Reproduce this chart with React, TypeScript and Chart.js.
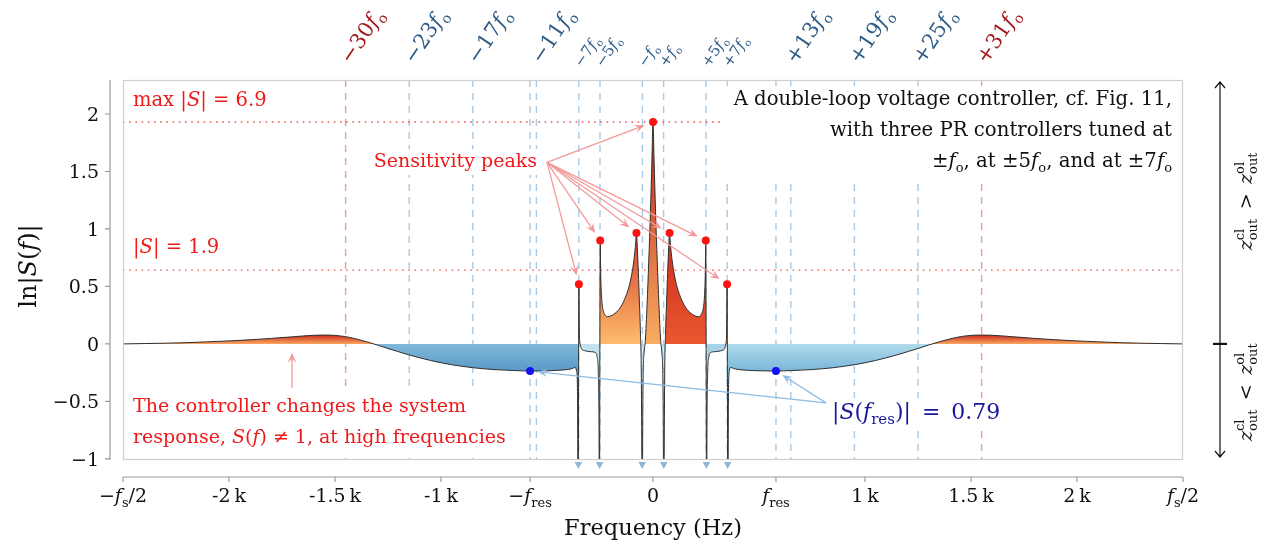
import { useEffect, useRef } from "react";
import { Chart, registerables } from "chart.js";

Chart.register(...registerables);

const FONT = '"DejaVu Serif", "Liberation Serif", serif';

// ---------------- data ----------------
const FREQ_HZ = [
  -2500, -2400, -2300, -2200, -2100, -2000, -1900, -1800, -1700, -1600, -1550, -1500, -1450, -1400, -1350, -1300,
  -1250, -1200, -1150, -1100, -1050, -1000, -950, -900, -850, -800, -750, -700, -650, -580, -500, -450, -400,
  -380, -368, -360, -356, -353, -351, -349.5, -347.5, -344, -338, -320, -290, -272, -264, -258, -255, -252.5,
  -250.5, -249, -246.5, -243, -237, -228, -216, -200, -185, -165, -145, -125, -110, -97, -88, -82, -78, -74,
  -69, -64, -59, -55, -51, -47, -42, -36, -28, -20, -12, -5, 0,
  5, 12, 20, 28, 36, 42, 47, 51, 55, 59, 64, 69, 74, 78, 82, 88, 97, 110, 125, 145, 165, 185, 200, 216, 228,
  237, 243, 246.5, 249, 250.5, 252.5, 255, 258, 264, 272, 290, 320, 338, 344, 347.5, 349.5, 351, 353, 356, 360,
  368, 380, 400, 450, 500, 580, 650, 700, 750, 800, 850, 900, 950, 1000, 1050, 1100, 1150, 1200, 1250, 1300,
  1350, 1400, 1450, 1500, 1550, 1600, 1700, 1800, 1900, 2000, 2100, 2200, 2300, 2400, 2500,
];
const LN_S = [
  0, 0.003, 0.006, 0.011, 0.018, 0.026, 0.036, 0.048, 0.062, 0.075, 0.077, 0.074, 0.063, 0.043, 0.018, -0.01,
  -0.04, -0.068, -0.096, -0.121, -0.144, -0.164, -0.181, -0.195, -0.207, -0.216, -0.223, -0.228, -0.232, -0.236, -0.234, -0.23, -0.222,
  -0.214, -0.205, -0.24, -0.45, -1.6, -0.3, 0.52, 0.12, 0.0, -0.04, -0.06, -0.068, -0.075, -0.11, -0.25, -0.6, -1.6,
  0.1, 0.9, 0.6, 0.42, 0.31, 0.258, 0.237, 0.243, 0.258, 0.29, 0.345, 0.43, 0.52, 0.64, 0.76, 0.87, 0.965, 0.84,
  0.62, 0.36, 0.08, -0.3, -1.6, -0.35, -0.08, 0.03, 0.34, 0.72, 1.15, 1.6, 1.93,
  1.6, 1.15, 0.72, 0.34, 0.03, -0.08, -0.35, -1.6, -0.3, 0.08, 0.36, 0.62, 0.84, 0.965, 0.87, 0.76, 0.64, 0.52, 0.43, 0.345, 0.29, 0.258, 0.243, 0.237, 0.258,
  0.31, 0.42, 0.6, 0.9, 0.1, -1.6, -0.6, -0.25, -0.11, -0.075, -0.068, -0.06, -0.04, 0.0, 0.12, 0.52, -0.3, -1.6, -0.45, -0.24,
  -0.205, -0.214, -0.222, -0.23, -0.234, -0.236, -0.232, -0.228, -0.223, -0.216, -0.207, -0.195, -0.181, -0.164, -0.144, -0.121, -0.096, -0.068, -0.04, -0.01,
  0.018, 0.043, 0.063, 0.074, 0.077, 0.075, 0.062, 0.048, 0.036, 0.026, 0.018, 0.011, 0.006, 0.003, 0,
];
// frequency ranges drawn with their own shading
const SPLIT_HZ = [-2500, -344, -51, 51, 344, 2500];

const PEAK_HZ = [-349.5, -249, -78, 0, 78, 249, 349.5];
const PEAK_LN = [0.52, 0.9, 0.965, 1.93, 0.965, 0.9, 0.52];
const RES_HZ = [-580, 580];
const RES_LN = [-0.236, -0.236];
const NOTCH_HZ = [-352, -252, -51, 51, 252, 352];

const HARM_HZ = [-1450, -1150, -850, -550, -350, -250, -50, 50, 250, 350, 650, 950, 1250, 1550];
const HARM_LABELS = ["−30", "−23", "−17", "−11", "−7", "−5", "−", "+", "+5", "+7", "+13", "+19", "+25", "+31"];
const HARM_RED = [true, false, false, false, false, false, false, false, false, false, false, false, false, true];
const HARM_SMALL = [false, false, false, false, true, true, true, true, true, true, false, false, false, false];
const RES_LINE_HZ = [-580, 580];

const X_TICK_HZ = [-2500, -2000, -1500, -1000, -580, 0, 580, 1000, 1500, 2000, 2500];
const X_TICK_LABELS = ["−$f$_{s}/2", "-2\u2009k", "-1.5\u2009k", "-1\u2009k", "−$f$_{res}", "0", "$f$_{res}", "1\u2009k", "1.5\u2009k", "2\u2009k", "$f$_{s}/2"];
const Y_TICKS = [-1, -0.5, 0, 0.5, 1, 1.5, 2];
const Y_TICK_LABELS = ["−1", "−0.5", "0", "0.5", "1", "1.5", "2"];

const MAX_LN_S = 1.93; // ln 6.9
const LIMIT_LN_S = 0.642; // ln 1.9
const SENS_ORIGIN = [-500, 1.58];
const RES_ORIGIN = [816, -0.513];
const HF_ARROW = [-1703, -0.383, -0.078];

// ---------------- rich text helpers ----------------
type Seg = { t: string; k: string };

function parseRich(s: string): Seg[] {
  const out: Seg[] = [];
  let buf = "";
  let i = 0;
  const flush = () => {
    if (buf) out.push({ t: buf, k: "" });
    buf = "";
  };
  while (i < s.length) {
    const ch = s[i];
    if (ch === "$") {
      flush();
      const j = s.indexOf("$", i + 1);
      out.push({ t: s.slice(i + 1, j), k: "i" });
      i = j + 1;
    } else if ((ch === "_" || ch === "^") && s[i + 1] === "{") {
      flush();
      const j = s.indexOf("}", i);
      out.push({ t: s.slice(i + 2, j), k: ch === "_" ? "sub" : "sup" });
      i = j + 1;
    } else {
      buf += ch;
      i++;
    }
  }
  flush();
  return out;
}

function fontFor(k: string, size: number) {
  if (k === "i") return `italic ${size}px ${FONT}`;
  if (k === "sub" || k === "sup") return `${Math.round(size * 0.68)}px ${FONT}`;
  return `${size}px ${FONT}`;
}

function layoutRich(ctx: CanvasRenderingContext2D, text: string, size: number) {
  const segs = parseRich(text);
  const items: any[] = [];
  let x = 0;
  for (let i = 0; i < segs.length; i++) {
    const s = segs[i];
    ctx.font = fontFor(s.k, size);
    const w = ctx.measureText(s.t).width;
    const next = segs[i + 1];
    if (s.k === "sub" && next && next.k === "sup") {
      ctx.font = fontFor("sup", size);
      const w2 = ctx.measureText(next.t).width;
      items.push({ s, x, dy: size * 0.25 });
      items.push({ s: next, x, dy: -size * 0.4 });
      x += Math.max(w, w2);
      i++;
      continue;
    }
    items.push({ s, x, dy: s.k === "sub" ? size * 0.25 : s.k === "sup" ? -size * 0.4 : 0 });
    x += w;
  }
  return { items, width: x };
}

function drawRich(
  ctx: CanvasRenderingContext2D,
  text: string,
  x: number,
  y: number,
  size: number,
  color: string,
  align = "left",
  box = false
) {
  const L = layoutRich(ctx, text, size);
  const x0 = align === "left" ? x : align === "right" ? x - L.width : x - L.width / 2;
  if (box) {
    ctx.fillStyle = "#ffffff";
    ctx.fillRect(x0 - 5, y - size * 0.95, L.width + 10, size * 1.35);
  }
  ctx.fillStyle = color;
  ctx.textAlign = "left";
  ctx.textBaseline = "alphabetic";
  for (const it of L.items) {
    ctx.font = fontFor(it.s.k, size);
    ctx.fillText(it.s.t, x0 + it.x, y + it.dy);
  }
  return { left: x0, right: x0 + L.width };
}

function arrow(ctx: CanvasRenderingContext2D, x0: number, y0: number, x1: number, y1: number, gap: number, color: string) {
  const dx = x1 - x0;
  const dy = y1 - y0;
  const len = Math.hypot(dx, dy);
  const ux = dx / len;
  const uy = dy / len;
  const tx = x1 - ux * gap;
  const ty = y1 - uy * gap;
  const hl = 10;
  const hw = 4.2;
  ctx.strokeStyle = color;
  ctx.fillStyle = color;
  ctx.lineWidth = 1.3;
  ctx.setLineDash([]);
  ctx.beginPath();
  ctx.moveTo(x0, y0);
  ctx.lineTo(tx - ux * hl * 0.6, ty - uy * hl * 0.6);
  ctx.stroke();
  ctx.beginPath();
  ctx.moveTo(tx, ty);
  ctx.lineTo(tx - ux * hl - uy * hw, ty - uy * hl + ux * hw);
  ctx.lineTo(tx - ux * hl * 0.6, ty - uy * hl * 0.6);
  ctx.lineTo(tx - ux * hl + uy * hw, ty - uy * hl - ux * hw);
  ctx.closePath();
  ctx.fill();
}

// ---------------- drawing plugin ----------------
const decorations = {
  id: "decorations",
  beforeDatasetsDraw(chart: any) {
    const { ctx, chartArea: a, scales } = chart;
    const x = scales.x;
    const y = scales.y;
    ctx.save();
    ctx.lineWidth = 1.4;
    ctx.setLineDash([7, 6]);
    const lines = [
      ...HARM_HZ.map((f, i) => ({ f, red: HARM_RED[i] })),
      ...RES_LINE_HZ.map((f) => ({ f, red: false })),
    ];
    for (const l of lines) {
      const px = x.getPixelForValue(l.f);
      ctx.strokeStyle = l.red ? "#ec9a9a" : "#a8cae6";
      ctx.beginPath();
      ctx.moveTo(px, a.top);
      ctx.lineTo(px, a.bottom);
      ctx.stroke();
    }
    ctx.setLineDash([1.6, 4.6]);
    ctx.strokeStyle = "#ee5656";
    ctx.lineWidth = 1.4;
    for (const v of [MAX_LN_S, LIMIT_LN_S]) {
      const py = y.getPixelForValue(v);
      ctx.beginPath();
      ctx.moveTo(a.left, py);
      ctx.lineTo(a.right, py);
      ctx.stroke();
    }
    ctx.restore();
  },
  afterDatasetsDraw(chart: any) {
    const { ctx, chartArea: a, scales } = chart;
    const x = scales.x;
    const y = scales.y;
    const RED = "#f01818";
    const PINK = "#f29a9a";
    ctx.save();

    drawRich(ctx, "max |$S$| = 6.9", a.left + 10, y.getPixelForValue(MAX_LN_S) - 16, 19.5, RED);
    drawRich(ctx, "|$S$| = 1.9", a.left + 10, y.getPixelForValue(LIMIT_LN_S) - 17, 19.5, RED);

    // sensitivity peaks
    const sx = x.getPixelForValue(SENS_ORIGIN[0]);
    const sy = y.getPixelForValue(SENS_ORIGIN[1]);
    drawRich(ctx, "Sensitivity peaks", sx - 10, sy + 5, 19, RED, "right", true);
    PEAK_HZ.forEach((f, i) => arrow(ctx, sx, sy, x.getPixelForValue(f), y.getPixelForValue(PEAK_LN[i]), 9, PINK));

    // high-frequency note
    const l1 = "The controller changes the system";
    const l2 = "response, $S$($f$) ≠ 1, at high frequencies";
    const w = Math.max(layoutRich(ctx, l1, 19).width, layoutRich(ctx, l2, 19).width);
    ctx.fillStyle = "#fff";
    ctx.fillRect(a.left + 2, a.bottom - 70, w + 18, 68);
    drawRich(ctx, l1, a.left + 10, a.bottom - 48, 19, RED);
    drawRich(ctx, l2, a.left + 10, a.bottom - 17, 19, RED);
    const hx = x.getPixelForValue(HF_ARROW[0]);
    arrow(ctx, hx, y.getPixelForValue(HF_ARROW[1]), hx, y.getPixelForValue(HF_ARROW[2]), 0, PINK);

    // description box
    const d1 = "A double-loop voltage controller, cf. Fig. 11,";
    const d2 = "with three PR controllers tuned at";
    const d3 = "±$f$_{o}, at ±5$f$_{o}, and at ±7$f$_{o}";
    const ds = 19.7;
    const dw = Math.max(layoutRich(ctx, d1, ds).width, layoutRich(ctx, d2, ds).width, layoutRich(ctx, d3, ds).width);
    const rx = a.right - 11;
    ctx.fillStyle = "#fff";
    ctx.fillRect(rx - dw - 10, a.top + 6, dw + 20, 92);
    drawRich(ctx, d1, rx, a.top + 25, ds, "#111", "right");
    drawRich(ctx, d2, rx, a.top + 56, ds, "#111", "right");
    drawRich(ctx, d3, rx, a.top + 87, ds, "#111", "right");

    // |S(f_res)|
    const ox = x.getPixelForValue(RES_ORIGIN[0]);
    const oy = y.getPixelForValue(RES_ORIGIN[1]);
    drawRich(ctx, "|$S$($f$_{res})|\u2002=\u20020.79", ox + 6, oy + 16, 22, "#17179a", "left", true);
    RES_HZ.forEach((f, i) => arrow(ctx, ox, oy, x.getPixelForValue(f), y.getPixelForValue(RES_LN[i]), 7.5, "#8fbbe0"));

    ctx.restore();
  },
  afterDraw(chart: any) {
    const { ctx, chartArea: a, scales } = chart;
    const x = scales.x;
    const y = scales.y;
    ctx.save();
    ctx.setLineDash([]);
    // frame
    ctx.strokeStyle = "#cfcfcf";
    ctx.lineWidth = 1.2;
    ctx.strokeRect(a.left + 0.5, a.top + 0.5, a.right - a.left - 1, a.bottom - a.top - 1);

    // notch markers
    ctx.fillStyle = "#89b7dd";
    for (const f of NOTCH_HZ) {
      const px = x.getPixelForValue(f);
      ctx.beginPath();
      ctx.moveTo(px - 3.8, a.bottom + 2);
      ctx.lineTo(px + 3.8, a.bottom + 2);
      ctx.lineTo(px, a.bottom + 9);
      ctx.closePath();
      ctx.fill();
    }

    // y axis
    const ax = a.left - 13;
    ctx.strokeStyle = "#9a9a9a";
    ctx.lineWidth = 1.2;
    ctx.beginPath();
    ctx.moveTo(ax, a.top);
    ctx.lineTo(ax, a.bottom);
    for (const v of Y_TICKS) {
      const py = y.getPixelForValue(v);
      ctx.moveTo(ax - 5, py);
      ctx.lineTo(ax, py);
    }
    ctx.stroke();
    Y_TICKS.forEach((v, i) => drawRich(ctx, Y_TICK_LABELS[i], ax - 11, y.getPixelForValue(v) + 7, 19, "#111", "right"));

    // x axis
    const ay = a.bottom + 17;
    ctx.beginPath();
    ctx.moveTo(a.left, ay);
    ctx.lineTo(a.right, ay);
    for (const f of X_TICK_HZ) {
      const px = x.getPixelForValue(f);
      ctx.moveTo(px, ay);
      ctx.lineTo(px, ay + 5);
    }
    ctx.stroke();
    X_TICK_HZ.forEach((f, i) => drawRich(ctx, X_TICK_LABELS[i], x.getPixelForValue(f), ay + 25, 19, "#111", "center"));

    // axis titles
    drawRich(ctx, "Frequency (Hz)", (a.left + a.right) / 2, a.bottom + 75, 22.5, "#111", "center");
    ctx.save();
    ctx.translate(36, (a.top + a.bottom) / 2 - 4);
    ctx.rotate(-Math.PI / 2);
    drawRich(ctx, "ln|$S$($f$)|", 0, 0, 24, "#111", "center");
    ctx.restore();

    // harmonic labels on top
    HARM_HZ.forEach((f, i) => {
      const px = x.getPixelForValue(f);
      const small = HARM_SMALL[i];
      ctx.save();
      ctx.translate(px + (small ? 3 : 5), a.top - (small ? 12 : 15));
      ctx.rotate((-56 * Math.PI) / 180);
      drawRich(ctx, HARM_LABELS[i] + "$f$_{o}", 0, 0, small ? 15 : 21, HARM_RED[i] ? "#a3191c" : "#2d5b86", "left");
      ctx.restore();
    });

    // right-hand impedance axis
    const zx = a.right + 37;
    const top = a.top + 2;
    const bot = a.bottom - 3;
    const z0 = y.getPixelForValue(0);
    ctx.strokeStyle = "#111";
    ctx.lineWidth = 1.2;
    ctx.beginPath();
    ctx.moveTo(zx, top);
    ctx.lineTo(zx, bot);
    ctx.moveTo(zx - 5, top + 6);
    ctx.lineTo(zx, top);
    ctx.lineTo(zx + 5, top + 6);
    ctx.moveTo(zx - 5, bot - 6);
    ctx.lineTo(zx, bot);
    ctx.lineTo(zx + 5, bot - 6);
    ctx.stroke();
    ctx.lineWidth = 2.2;
    ctx.beginPath();
    ctx.moveTo(zx - 7, z0);
    ctx.lineTo(zx + 7, z0);
    ctx.stroke();
    ctx.save();
    ctx.translate(zx + 32, y.getPixelForValue(1.24));
    ctx.rotate(-Math.PI / 2);
    drawRich(ctx, "$z$_{out}^{cl}\u2002>\u2002$z$_{out}^{ol}", 0, 0, 19, "#111", "center");
    ctx.restore();
    ctx.save();
    ctx.translate(zx + 32, y.getPixelForValue(-0.42));
    ctx.rotate(-Math.PI / 2);
    drawRich(ctx, "$z$_{out}^{cl}\u2002<\u2002$z$_{out}^{ol}", 0, 0, 19, "#111", "center");
    ctx.restore();

    ctx.restore();
  },
};

function buildConfig(fills: any[] | null, withDecor: boolean): any {
  const datasets: any[] = SPLIT_HZ.slice(0, -1).map((lo, k) => {
    const hi = SPLIT_HZ[k + 1];
    const pts: any[] = [];
    FREQ_HZ.forEach((f, i) => {
      if (f >= lo && f <= hi) pts.push({ x: f, y: LN_S[i] });
    });
    return {
      data: pts,
      borderColor: "#2e2e2e",
      borderWidth: 1,
      pointRadius: 0,
      cubicInterpolationMode: "monotone",
      backgroundColor: "rgba(0,0,0,0)",
      fill: fills ? { target: "origin", above: fills[k].above, below: fills[k].below } : false,
      order: 2,
    };
  });
  datasets.push({
    data: PEAK_HZ.map((f, i) => ({ x: f, y: PEAK_LN[i] })),
    showLine: false,
    pointRadius: 4,
    pointBackgroundColor: "#ff1212",
    pointBorderWidth: 0,
    fill: false,
    clip: false,
    order: 0,
  });
  datasets.push({
    data: RES_HZ.map((f, i) => ({ x: f, y: RES_LN[i] })),
    showLine: false,
    pointRadius: 4,
    pointBackgroundColor: "#1212f2",
    pointBorderWidth: 0,
    fill: false,
    clip: false,
    order: 0,
  });
  return {
    type: "line",
    data: { datasets },
    options: {
      responsive: false,
      maintainAspectRatio: false,
      animation: false,
      events: [],
      layout: { padding: { left: 123, right: 82, top: 80, bottom: 91 } },
      scales: {
        x: { type: "linear", min: -2500, max: 2500, display: false },
        y: { type: "linear", min: -1.01, max: 2.296, display: false },
      },
      plugins: { legend: { display: false }, tooltip: { enabled: false } },
    },
    plugins: withDecor ? [decorations] : [],
  };
}

export default function App() {
  const ref = useRef<HTMLCanvasElement>(null);
  useEffect(() => {
    const canvas = ref.current!;
    // probe pass: read the library's scale geometry for the shading gradients
    const probe = new Chart(canvas, buildConfig(null, false));
    const ys: any = probe.scales.y;
    const py = (v: number) => ys.getPixelForValue(v);
    const g = {
      y0: py(0),
      y008: py(0.08),
      y097: py(0.97),
      y193: py(1.93),
      yneg: py(-0.24),
    };
    probe.destroy();

    const ctx = canvas.getContext("2d")!;
    const vgrad = (yTop: number, c0: string, c1: string) => {
      const gr = ctx.createLinearGradient(0, g.y0, 0, yTop);
      gr.addColorStop(0, c0);
      gr.addColorStop(1, c1);
      return gr;
    };
    const fills = [
      { above: vgrad(g.y008, "#f9a65f", "#c8271c"), below: vgrad(g.yneg, "#7fb8da", "#5a99c7") },
      { above: vgrad(g.y097, "#fdbc6c", "#d53b25"), below: "#c3e1ef" },
      { above: vgrad(g.y193, "#f9ad62", "#bd2019"), below: "#b9dcec" },
      { above: vgrad(g.y097, "#e8582f", "#cf2a1d"), below: "#a8d3e7" },
      { above: vgrad(g.y008, "#f9a65f", "#c8271c"), below: vgrad(g.yneg, "#afdbec", "#79b5d8") },
    ];
    const chart = new Chart(canvas, buildConfig(fills, true));
    return () => chart.destroy();
  }, []);
  return (
    <div style={{ position: "fixed", left: 0, top: 0, width: 1265, height: 551, background: "#fff" }}>
      <canvas ref={ref} width={1265} height={551} style={{ display: "block" }} />
    </div>
  );
}
